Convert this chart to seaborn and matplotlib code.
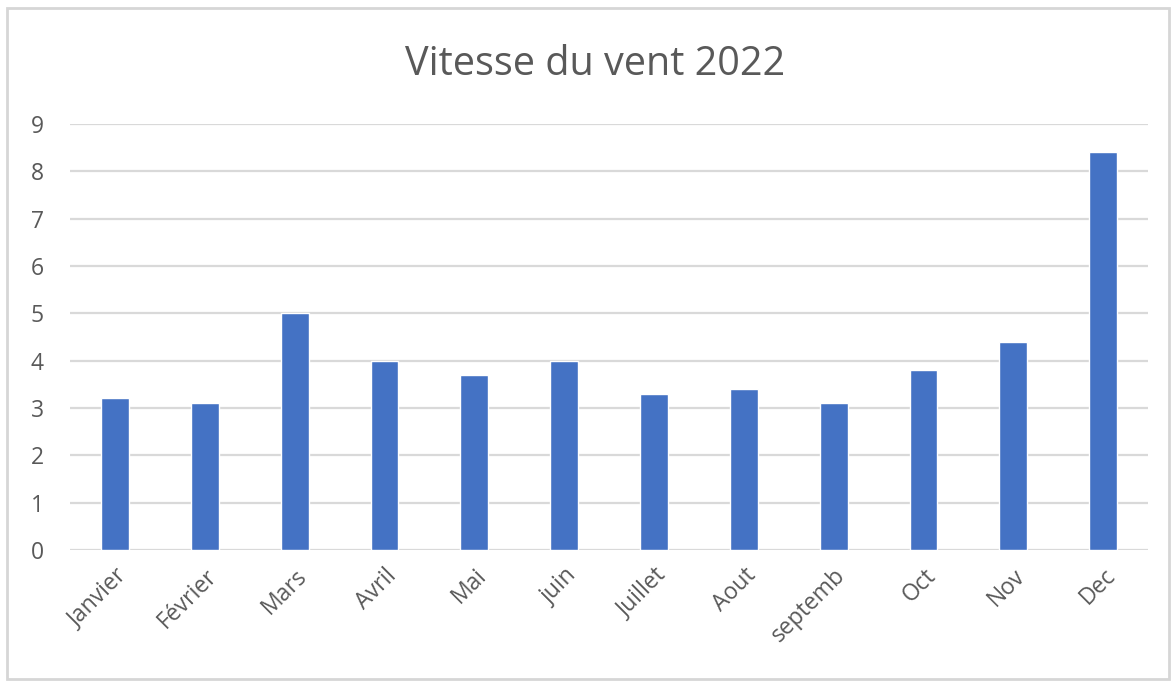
import matplotlib
matplotlib.use('Agg')
import matplotlib.pyplot as plt
import seaborn as sns
import pandas as pd
from matplotlib.patches import Rectangle

months = ['Janvier', 'Février', 'Mars', 'Avril', 'Mai', 'juin', 'Juillet',
          'Aout', 'septemb', 'Oct', 'Nov', 'Dec']
vitesse = [3.2, 3.1, 5.0, 4.0, 3.7, 4.0, 3.3, 3.4, 3.1, 3.8, 4.4, 8.4]
yticks = list(range(0, 10))

sns.set_style('white')
plt.rcParams['font.family'] = ['Open Sans', 'DejaVu Sans']

df = pd.DataFrame({'mois': months, 'vitesse': vitesse})

fig = plt.figure(figsize=(11.74, 6.81), dpi=100)
ax = fig.add_axes([0.0596, 0.1924, 0.9184, 0.6256])

sns.barplot(data=df, x='mois', y='vitesse', color='#4472C4', saturation=1,
            width=0.31, ax=ax, zorder=3)

ax.set_ylim(0, 9)
ax.set_xlim(-0.5, 11.5)
ax.set_yticks(yticks)
ax.yaxis.grid(True, color='#D9D9D9', linewidth=1.6, zorder=0)
ax.set_axisbelow(True)
for s in ax.spines.values():
    s.set_visible(False)
ax.set_xlabel('')
ax.set_ylabel('')
ax.tick_params(axis='y', length=0, pad=19, labelsize=16.5, labelcolor='#595959')
ax.tick_params(axis='x', length=0, pad=10, labelsize=16.5, labelcolor='#595959')
plt.setp(ax.get_xticklabels(), rotation=45, ha='right', rotation_mode='anchor')

fig.text(0.507, 0.905, 'Vitesse du vent 2022', ha='center', va='center',
         fontsize=28.5, color='#595959')

# light frame around the chart area
fig.patches.append(Rectangle((0.006, 0.003), 0.99, 0.985, transform=fig.transFigure,
                             fill=False, edgecolor='#D6D6D6', linewidth=2))

fig.savefig('out.png', dpi=100)
